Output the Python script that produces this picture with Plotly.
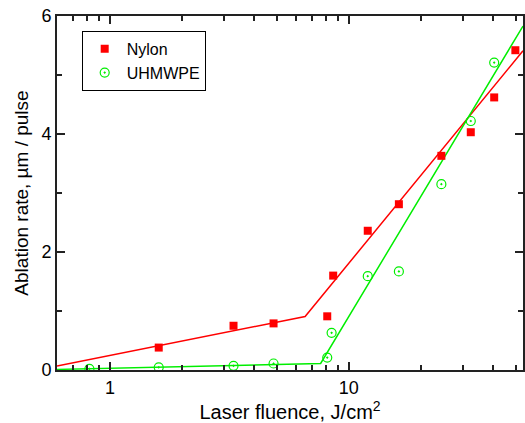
import numpy as np
import plotly.graph_objects as go

# Data
nylon_x = [1.6, 3.29, 4.84, 8.12, 8.6, 12.0, 16.2, 24.4, 32.4, 40.6, 49.8]
nylon_y = [0.38, 0.75, 0.79, 0.91, 1.60, 2.36, 2.81, 3.63, 4.03, 4.62, 5.42]
uhmw_x = [0.82, 1.6, 3.29, 4.84, 8.12, 8.47, 12.0, 16.2, 24.4, 32.4, 40.6]
uhmw_y = [0.02, 0.045, 0.07, 0.11, 0.21, 0.63, 1.59, 1.67, 3.15, 4.22, 5.21]

nylon_fit_x = [0.6, 6.56, 53.6]
nylon_fit_y = [0.068, 0.906, 5.41]
uhmw_fit_x = [0.6, 7.62, 53.6]
uhmw_fit_y = [0.01, 0.11, 5.83]

x_major = [1, 10]
x_major_text = ["1", "10"]
x_minor = [0.6, 0.7, 0.8, 0.9, 2, 3, 4, 5, 6, 7, 8, 9, 20, 30, 40, 50]
y_major = [0, 2, 4, 6]
y_minor = [1, 3, 5]

RED = "#ff0000"
GREEN = "#00ee00"

fig = go.Figure()
fig.add_trace(go.Scatter(x=nylon_fit_x, y=nylon_fit_y, mode="lines",
                         line=dict(color=RED, width=1.5), showlegend=False))
fig.add_trace(go.Scatter(x=uhmw_fit_x, y=uhmw_fit_y, mode="lines",
                         line=dict(color=GREEN, width=1.5), showlegend=False))
fig.add_trace(go.Scatter(x=nylon_x, y=nylon_y, mode="markers", name="Nylon",
                         marker=dict(symbol="square", size=8, color=RED)))
fig.add_trace(go.Scatter(x=uhmw_x, y=uhmw_y, mode="markers", name="UHMWPE",
                         marker=dict(symbol="circle-open-dot", size=9, color=GREEN,
                                     line=dict(width=1.2, color=GREEN))))

font = "Liberation Sans, Arial, sans-serif"
fig.update_layout(
    width=525, height=423,
    margin=dict(l=57, r=0, t=16, b=53),
    paper_bgcolor="white", plot_bgcolor="white",
    font=dict(family=font, size=16, color="black"),
    legend=dict(x=0.053, y=0.958, xanchor="left", yanchor="top",
                bordercolor="black", borderwidth=1, bgcolor="white",
                font=dict(size=16), itemwidth=34, tracegroupgap=0),
    xaxis=dict(type="log", range=[np.log10(0.6), np.log10(53.6)],
               tickmode="array", tickvals=x_major, ticktext=x_major_text,
               ticks="inside", ticklen=8, tickwidth=1.5, tickcolor="#222",
               showline=True, linecolor="#222", linewidth=2, mirror="ticks",
               showgrid=False, zeroline=False,
               minor=dict(tickmode="array", tickvals=x_minor, ticks="inside",
                          ticklen=5, tickwidth=1.5, tickcolor="#222", showgrid=False),
               title=dict(text="Laser fluence, J/cm<sup>2</sup>", standoff=4,
                          font=dict(size=20)),
               tickfont=dict(size=18)),
    yaxis=dict(range=[0, 6], tickmode="array", tickvals=y_major,
               ticks="inside", ticklen=8, tickwidth=1.5, tickcolor="#222",
               showline=True, linecolor="#222", linewidth=2, mirror="ticks",
               showgrid=False, zeroline=False,
               minor=dict(tickmode="array", tickvals=y_minor, ticks="inside",
                          ticklen=5, tickwidth=1.5, tickcolor="#222", showgrid=False),
               title=dict(text="Ablation rate, µm / pulse", standoff=8,
                          font=dict(size=19)),
               tickfont=dict(size=18)),
)

fig.write_html("out.html")
